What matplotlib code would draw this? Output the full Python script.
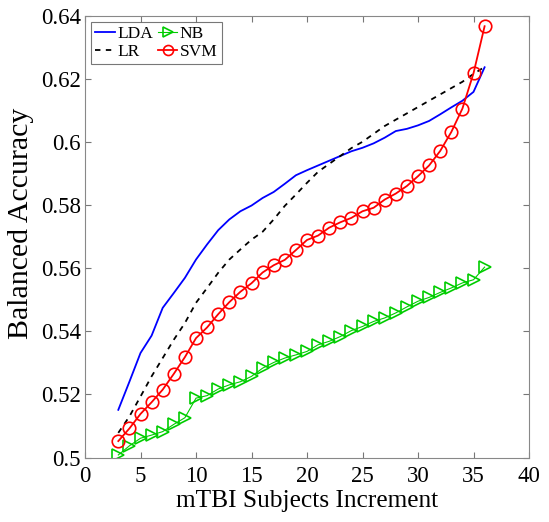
import numpy as np
import matplotlib
matplotlib.use("Agg")
import matplotlib.pyplot as plt

plt.rcParams['font.family'] = ['Liberation Serif', 'DejaVu Serif']

# number of mTBI subjects added
subjects = list(range(3, 37))

lda = [0.5151, 0.5240, 0.5331, 0.5386, 0.5474, 0.5521, 0.5569, 0.5627, 0.5675, 0.5720,
       0.5754, 0.5780, 0.5798, 0.5822, 0.5841, 0.5867, 0.5894, 0.5910, 0.5925, 0.5940,
       0.5955, 0.5970, 0.5981, 0.5995, 0.6013, 0.6034, 0.6041, 0.6052, 0.6066, 0.6087,
       0.6109, 0.6130, 0.6158, 0.6236]

lr = [0.5078, 0.5130, 0.5193, 0.5257, 0.5315, 0.5373, 0.5426, 0.5490, 0.5537, 0.5585,
      0.5627, 0.5659, 0.5690, 0.5715, 0.5754, 0.5797, 0.5833, 0.5870, 0.5905, 0.5930,
      0.5955, 0.5980, 0.6000, 0.6025, 0.6050, 0.6070, 0.6090, 0.6110, 0.6130, 0.6150,
      0.6170, 0.6190, 0.6215, 0.6237]

nb = [0.5008, 0.5037, 0.5061, 0.5071, 0.5082, 0.5105, 0.5126, 0.5188, 0.5196, 0.5217,
      0.5230, 0.5240, 0.5257, 0.5283, 0.5301, 0.5315, 0.5325, 0.5336, 0.5357, 0.5368,
      0.5383, 0.5402, 0.5415, 0.5431, 0.5442, 0.5458, 0.5477, 0.5495, 0.5507, 0.5523,
      0.5537, 0.5553, 0.5563, 0.5603]

svm = [0.5052, 0.5092, 0.5138, 0.5175, 0.5215, 0.5265, 0.5318, 0.5378, 0.5412, 0.5454,
       0.5492, 0.5525, 0.5552, 0.5586, 0.5609, 0.5626, 0.5657, 0.5689, 0.5703, 0.5728,
       0.5745, 0.5759, 0.5780, 0.5791, 0.5817, 0.5836, 0.5860, 0.5891, 0.5925, 0.5971,
       0.6031, 0.6105, 0.6217, 0.6366]

x_ticks = [0, 5, 10, 15, 20, 25, 30, 35, 40]
y_ticks = [0.5, 0.52, 0.54, 0.56, 0.58, 0.6, 0.62, 0.64]
y_tick_labels = ['0.5', '0.52', '0.54', '0.56', '0.58', '0.6', '0.62', '0.64']

fig = plt.figure(figsize=(5.49, 5.22), dpi=100)
ax = fig.add_axes([85 / 549, 1 - 457.5 / 522, 444 / 549, 442 / 522])

ax.plot(subjects, lda, color='#0000ff', lw=1.3, label='LDA')
ax.plot(subjects, lr, color='black', lw=1.3, ls=(0, (3, 3)), label='LR')
ax.plot(subjects, nb, color='#00cc00', lw=0.8, marker='>', ms=9, mfc='none',
        mec='#00cc00', mew=1.2, label='NB')
ax.plot(subjects, svm, color='#ff0000', lw=1.3, marker='o', ms=9, mfc='none',
        mec='#ff0000', mew=1.2, label='SVM')

ax.set_xlim(0, 40)
ax.set_ylim(0.5, 0.64)
ax.set_xticks(x_ticks)
ax.set_yticks(y_ticks)
ax.set_yticklabels(y_tick_labels)
ax.tick_params(direction='in', top=True, right=True, labelsize=16.5, length=4,
               color='#777777')
ax.tick_params(axis='x', pad=6)
ax.tick_params(axis='y', pad=3)
for s in ax.spines.values():
    s.set_color('#888888')
    s.set_linewidth(0.8)

ax.set_xlabel('mTBI Subjects Increment', fontsize=18.3, labelpad=2)
ax.set_ylabel('Balanced Accuracy', fontsize=21.5)
ax.yaxis.set_label_coords(-0.115, 0.53)

handles, labels = ax.get_legend_handles_labels()
leg = ax.legend(handles, labels, ncol=2, loc='upper left', fontsize=12.5,
                handlelength=1.1, handletextpad=0.15, columnspacing=0.3,
                borderpad=0.25, labelspacing=0.1, borderaxespad=0.35,
                fancybox=False, edgecolor='#555555', markerscale=0.8)
leg.get_frame().set_linewidth(0.8)

fig.savefig('out.png', dpi=100)
